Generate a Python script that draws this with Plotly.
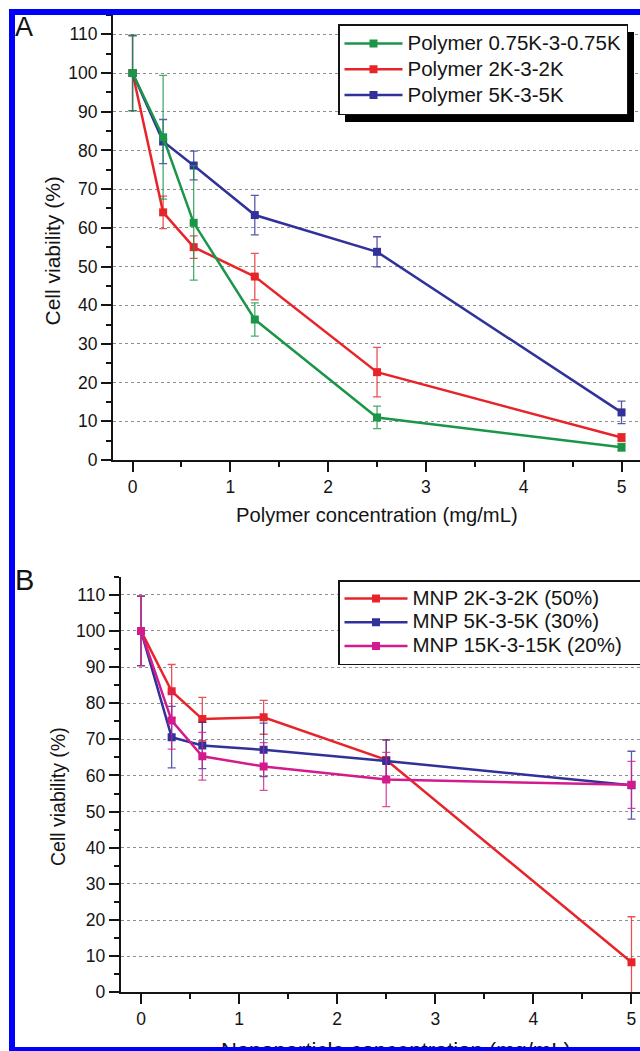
import plotly.graph_objects as go

# ---- data ---------------------------------------------------------------
conc = [0, 0.3125, 0.625, 1.25, 2.5, 5]

# Panel A: free polymers
poly_names = ["Polymer 0.75K-3-0.75K", "Polymer 2K-3-2K", "Polymer 5K-3-5K"]
poly_075_mean = [100, 83.4, 61.3, 36.3, 11.0, 3.3]
poly_075_err = [9.7, 16.0, 14.8, 4.3, 2.9, 1.0]
poly_2k_mean = [100, 64.0, 55.0, 47.4, 22.7, 5.8]
poly_2k_err = [9.7, 4.2, 2.9, 6.0, 6.4, 1.0]
poly_5k_mean = [100, 82.3, 76.1, 63.3, 53.8, 12.3]
poly_5k_err = [9.7, 5.7, 3.7, 5.1, 3.9, 2.9]

# Panel B: magnetic nanoparticles
mnp_names = ["MNP 2K-3-2K (50%)", "MNP 5K-3-5K (30%)", "MNP 15K-3-15K (20%)"]
mnp_2k_mean = [100, 83.3, 75.6, 76.1, 64.3, 8.3]
mnp_2k_err = [9.6, 7.4, 6.0, 4.7, 5.6, 12.6]
mnp_5k_mean = [100, 70.6, 68.3, 67.1, 64.0, 57.3]
mnp_5k_err = [9.6, 8.5, 6.4, 7.4, 5.8, 9.4]
mnp_15k_mean = [100, 75.2, 65.3, 62.5, 58.9, 57.4]
mnp_15k_err = [9.6, 7.9, 6.6, 6.6, 7.5, 6.5]

y_ticks = list(range(0, 111, 10))

# ---- styling ------------------------------------------------------------
W, H = 640, 1051
FONT = "Arial, Liberation Sans, Helvetica, sans-serif"
INK = "#141414"
GREEN = "#1b9648"
RED = "#e8242b"
NAVY = "#30319a"
MAGENTA = "#d41b8d"
FRAME = "#0000ff"


def fx(px):
    return px / W


def fy(py):
    return 1 - py / H


def rgba(hex_color, a):
    h = hex_color.lstrip("#")
    r, g, b = int(h[0:2], 16), int(h[2:4], 16), int(h[4:6], 16)
    return f"rgba({r},{g},{b},{a})"


def entry(name, size=20.5, pad=""):
    # legend rows use a tighter line pitch than the glyph size
    return f"<span style='font-size:{size}px'>{name}{pad}</span>"


def series(x, y, err, name, color, xa, ya, legend, rank):
    return go.Scatter(
        x=x, y=y, name=name, mode="lines+markers",
        xaxis=xa, yaxis=ya, legend=legend, legendrank=rank,
        line=dict(color=color, width=2.5),
        marker=dict(symbol="square", size=8, color=color),
        error_y=dict(type="data", array=err, visible=True,
                     color=rgba(color, 0.8), thickness=1.3, width=4),
    )


fig = go.Figure()

# panel A (drawing order keeps the green series on top)
fig.add_trace(series(conc, poly_2k_mean, poly_2k_err, entry(poly_names[1]), RED, "x", "y", "legend", 2))
fig.add_trace(series(conc, poly_5k_mean, poly_5k_err, entry(poly_names[2]), NAVY, "x", "y", "legend", 3))
fig.add_trace(series(conc, poly_075_mean, poly_075_err, entry(poly_names[0]), GREEN, "x", "y", "legend", 1))

# panel B
nb = "\u00a0" * 3
fig.add_trace(series(conc, mnp_2k_mean, mnp_2k_err, entry(mnp_names[0]), RED, "x2", "y2", "legend2", 1))
fig.add_trace(series(conc, mnp_5k_mean, mnp_5k_err, entry(mnp_names[1]), NAVY, "x2", "y2", "legend2", 2))
fig.add_trace(series(conc, mnp_15k_mean, mnp_15k_err, entry(mnp_names[2], pad=nb), MAGENTA, "x2", "y2", "legend2", 3))

axis_common = dict(
    showline=True, linecolor=INK, linewidth=2, mirror=False,
    ticks="outside", ticklen=10, tickwidth=2, tickcolor=INK,
    tickfont=dict(family=FONT, size=17.5, color=INK),
    zeroline=False, automargin=False, fixedrange=True,
)
x_common = dict(
    axis_common, showgrid=False, tick0=0, dtick=1,
    minor=dict(dtick=0.5, ticks="outside", ticklen=5, tickwidth=2,
               tickcolor=INK, showgrid=False),
)
y_common = dict(
    axis_common, range=[0, 115], tickvals=y_ticks,
    showgrid=True, gridcolor="#8e8e8e", griddash="dot", gridwidth=1,
    minor=dict(dtick=5, ticks="outside", ticklen=5, tickwidth=2,
               tickcolor=INK, showgrid=False),
)

legend_common = dict(
    bgcolor="white", bordercolor=INK, borderwidth=1.5,
    xanchor="left", yanchor="top", xref="paper", yref="paper",
    tracegroupgap=0,
)

fig.update_layout(
    width=W, height=H,
    margin=dict(l=0, r=0, t=0, b=0, autoexpand=False),
    paper_bgcolor="white", plot_bgcolor="white",
    template="none",
    font=dict(family=FONT, color=INK),
    xaxis=dict(x_common, domain=[fx(113), 1], range=[-0.2, 5.189], anchor="y"),
    yaxis=dict(y_common, domain=[fy(460), fy(15)], anchor="x"),
    xaxis2=dict(x_common, domain=[fx(120.7), 1], range=[-0.207, 5.087], anchor="y2"),
    yaxis2=dict(y_common, domain=[fy(992.3), fy(576.7)], anchor="x2"),
    legend=dict(legend_common, x=fx(338), y=fy(24), itemwidth=58,
                font=dict(family=FONT, size=17.5, color=INK)),
    legend2=dict(legend_common, x=fx(338), y=fy(580), itemwidth=63,
                 font=dict(family=FONT, size=16, color=INK)),
    showlegend=True,
)

# legend drop shadows
for x0, y0, x1, y1 in [(345, 32, 634, 122), (345, 588, 660, 665)]:
    fig.add_shape(type="rect", xref="paper", yref="paper", layer="above",
                  x0=fx(x0), x1=fx(x1), y0=fy(y1), y1=fy(y0),
                  fillcolor="black", line=dict(width=0))


# axis titles and panel letters
def label(text, x, y, size, angle=0, xanchor="center", yanchor="middle", **kw):
    fig.add_annotation(text=text, x=fx(x), y=fy(y), xref="paper", yref="paper",
                       showarrow=False, textangle=angle,
                       xanchor=xanchor, yanchor=yanchor,
                       font=dict(family=FONT, size=size, color=INK), **kw)


label("Polymer concentration (mg/mL)", 377, 515, 20.2)
label("Cell viability (%)", 52, 251.5, 21, angle=-90)
label("Cell viability (%)", 58, 797, 19.5, angle=-90)
label("Nanoparticle concentration (mg/mL)", 396, 1036, 22, yanchor="top")
label("A", 13, 10, 27, xanchor="left", yanchor="top")
label("B", 13, 562, 29, xanchor="left", yanchor="top")

# blue frame: left and top edges as shapes
for x0, y0, x1, y1 in [(9, 9, 15, H), (9, 9, W, 15)]:
    fig.add_shape(type="rect", xref="paper", yref="paper", layer="above",
                  x0=fx(x0), x1=fx(x1), y0=fy(y1), y1=fy(y0),
                  fillcolor=FRAME, line=dict(width=0))
# bottom edge sits over the lower axis title, so it is an annotation box
fig.add_annotation(text=" ", x=fx(9), y=fy(1047), xref="paper", yref="paper",
                   xanchor="left", yanchor="top", showarrow=False,
                   width=W - 9, height=H - 1047, borderpad=0, borderwidth=0,
                   bgcolor=FRAME, font=dict(size=4))

fig.write_html("out.html")
